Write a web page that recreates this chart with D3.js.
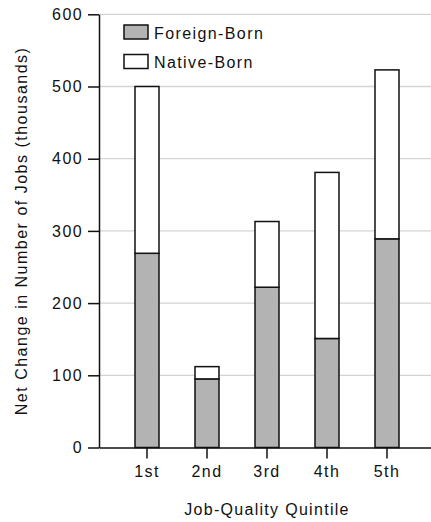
<!DOCTYPE html>
<meta charset="utf-8">
<script src="https://d3js.org/d3.v7.min.js"></script>
<style>
  body { margin: 0; background: #fff; }
  text { font-family: "Liberation Sans", Arial, Helvetica, sans-serif; fill: #111; }
</style>
<div id="my_dataviz"></div>
<script>

// data (thousands of jobs)
var quintiles = ["1st", "2nd", "3rd", "4th", "5th"];
var foreignBorn = [269, 95, 222, 151, 289];
var nativeBorn = [231, 17, 91, 230, 234];
var yTicks = [0, 100, 200, 300, 400, 500, 600];
var seriesNames = ["Foreign-Born", "Native-Born"];
var seriesColors = ["#b3b3b3", "#ffffff"];

var width = 431, height = 522;
var plotLeft = 99, plotRight = 435, plotTop = 14.3, plotBottom = 447.5;

var svg = d3.select("#my_dataviz")
  .append("svg")
    .attr("width", width)
    .attr("height", height);

// scales
var x = d3.scaleBand()
  .domain(quintiles)
  .range([plotLeft, plotRight])
  .paddingInner(0.6)
  .paddingOuter(0.6);

var y = d3.scaleLinear()
  .domain([0, 600])
  .range([plotBottom, plotTop]);

// gridlines
svg.append("g")
  .selectAll("line")
  .data(yTicks.filter(function(d){ return d > 0; }))
  .enter()
  .append("line")
    .attr("x1", plotLeft)
    .attr("x2", width)
    .attr("y1", function(d){ return y(d); })
    .attr("y2", function(d){ return y(d); })
    .attr("stroke", "#d4d4d4")
    .attr("stroke-width", 1.3);

// stacked bars
var rows = quintiles.map(function(q, i) {
  return { q: q, foreign: foreignBorn[i], native: nativeBorn[i] };
});
var stack = d3.stack().keys(["foreign", "native"])(rows);

svg.append("g")
  .selectAll("g")
  .data(stack)
  .enter()
  .append("g")
    .attr("fill", function(d, i){ return seriesColors[i]; })
  .selectAll("rect")
  .data(function(d){ return d; })
  .enter()
  .append("rect")
    .attr("x", function(d){ return x(d.data.q); })
    .attr("width", x.bandwidth())
    .attr("y", function(d){ return y(d[1]); })
    .attr("height", function(d){ return y(d[0]) - y(d[1]); })
    .attr("stroke", "#111")
    .attr("stroke-width", 1.5);

// x axis
var xAxis = svg.append("g")
  .attr("transform", "translate(0," + plotBottom + ")")
  .call(d3.axisBottom(x).tickSize(11).tickSizeOuter(0).tickPadding(7));
xAxis.select(".domain").attr("stroke", "#111").attr("stroke-width", 1.5);
xAxis.selectAll(".tick line").attr("stroke", "#111").attr("stroke-width", 1.5);
xAxis.selectAll("text")
  .style("font-size", "16px")
  .style("letter-spacing", "1.4px")
  .attr("fill", "#111");

// y axis
var yAxis = svg.append("g")
  .attr("transform", "translate(" + plotLeft + ",0)")
  .call(d3.axisLeft(y).tickValues(yTicks).tickSize(11).tickSizeOuter(0).tickPadding(5));
yAxis.select(".domain").attr("stroke", "#111").attr("stroke-width", 1.5);
yAxis.selectAll(".tick line").attr("stroke", "#111").attr("stroke-width", 1.5);
yAxis.selectAll("text")
  .style("font-size", "16px")
  .style("letter-spacing", "1.4px")
  .attr("fill", "#111");

// axis titles
svg.append("text")
  .attr("x", (plotLeft + plotRight) / 2)
  .attr("y", 515)
  .attr("text-anchor", "middle")
  .style("font-size", "16px")
  .style("letter-spacing", "1.3px")
  .text("Job-Quality Quintile");

svg.append("text")
  .attr("transform", "translate(27," + (plotTop + plotBottom) / 2 + ") rotate(-90)")
  .attr("text-anchor", "middle")
  .style("font-size", "16px")
  .style("letter-spacing", "1.5px")
  .text("Net Change in Number of Jobs (thousands)");

// legend
var legend = svg.append("g")
  .selectAll("g")
  .data(seriesNames)
  .enter()
  .append("g")
    .attr("transform", function(d, i){ return "translate(124," + (25 + i * 29.5) + ")"; });

legend.append("rect")
  .attr("width", 24)
  .attr("height", 14)
  .attr("fill", function(d, i){ return seriesColors[i]; })
  .attr("stroke", "#111")
  .attr("stroke-width", 1.5);

legend.append("text")
  .attr("x", 30)
  .attr("y", 13.5)
  .style("font-size", "16px")
  .style("letter-spacing", "1.4px")
  .text(function(d){ return d; });

</script>
